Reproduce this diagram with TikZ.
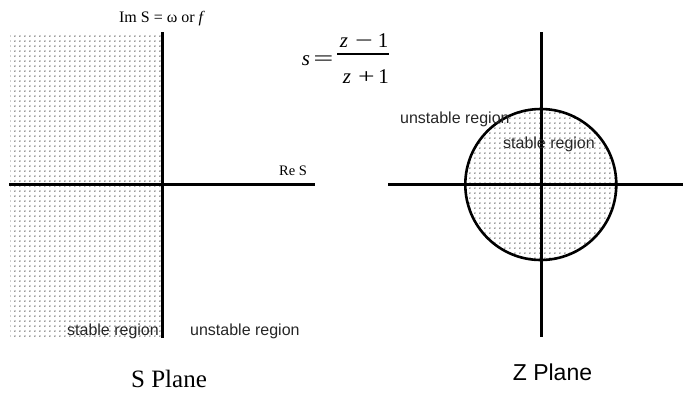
\documentclass[tikz,border=0pt]{standalone}
\usepackage{fontspec}
\setmainfont{Liberation Serif}
\newfontfamily\arialf{Liberation Sans}
\usetikzlibrary{patterns.meta}
\tikzdeclarepattern{
  name=fdots, type=uncolored,
  bounding box={(0pt,0pt) and (4.6pt,4.6pt)},
  tile size={(4.6pt,4.6pt)},
  code={\fill (1pt,1pt) circle (0.75pt);}
}
\tikzset{
  axis/.style={line width=2.6pt},
  shade/.style={pattern=fdots, pattern color=black!80},
  sanslab/.style={font=\arialf\fontsize{16}{18}\selectfont, inner sep=0pt, anchor=base west, text=black!85},
  serlab/.style={font=\fontsize{16}{18}\selectfont, inner sep=0pt, anchor=base},
  mth/.style={font=\fontsize{21}{24}\selectfont, inner sep=0pt, anchor=base},
}
\begin{document}
\begin{tikzpicture}[x=1pt,y=-1pt]
\useasboundingbox (0,0) rectangle (683,392);
% S plane
\coordinate (sl) at (9,184.5);
\coordinate (sr) at (315,184.5);
\coordinate (st) at (162.5,32);
\coordinate (sb) at (162.5,338);
\fill[shade] (10,33) rectangle (162.5,338);
\draw[axis] (sl) -- (sr);
\draw[axis] (st) -- (sb);
\node[serlab] (imS) at (162,22) {Im S = ω or \textit{f}};
\node[serlab, anchor=base west, font=\fontsize{14.5}{16}\selectfont] (reS) at (279,175) {Re S};
\node[sanslab] (sstab) at (67,335.5) {stable region};
\node[sanslab] (sunst) at (190,335.5) {unstable region};
\node[inner sep=0pt, anchor=base, font=\fontsize{25}{28}\selectfont] (splane) at (169,387) {S Plane};
% Formula
\node[mth] (fs) at (306,65.5) {\textit{s}};
\node[mth] (feq) at (323.5,65.5) {\scalebox{1.7}[1]{=}};
\node[mth] (nz) at (344,47) {\textit{z}};
\node[mth] (nm) at (364,47) {\scalebox{1.5}[1]{−}};
\node[mth] (n1) at (383,47) {1};
\node[mth] (dz) at (347,83) {\textit{z}};
\node[mth] (dp) at (366.5,83) {\scalebox{1.4}[1]{+}};
\node[mth] (d1) at (383.5,83) {1};
\coordinate (barL) at (337,54);
\coordinate (barR) at (388.5,54);
\draw[line width=1.3pt] (barL) -- (barR);
% Z plane
\coordinate (zc) at (540.8,184.5);
\coordinate (zl) at (388,184.5);
\coordinate (zr) at (683,184.5);
\coordinate (zt) at (541.6,32);
\coordinate (zb) at (541.6,337);
\fill[shade] (zc) circle (75.5);
\draw[axis] (zl) -- (zr);
\draw[axis] (zt) -- (zb);
\draw[axis] (zc) circle (75.5);
\node[sanslab] (zunst) at (400,123) {unstable region};
\node[sanslab] (zstab) at (503,148) {stable region};
\node[inner sep=0pt, anchor=base, font=\arialf\fontsize{23}{26}\selectfont] (zplane) at (552.5,380) {Z Plane};
\end{tikzpicture}
\end{document}
